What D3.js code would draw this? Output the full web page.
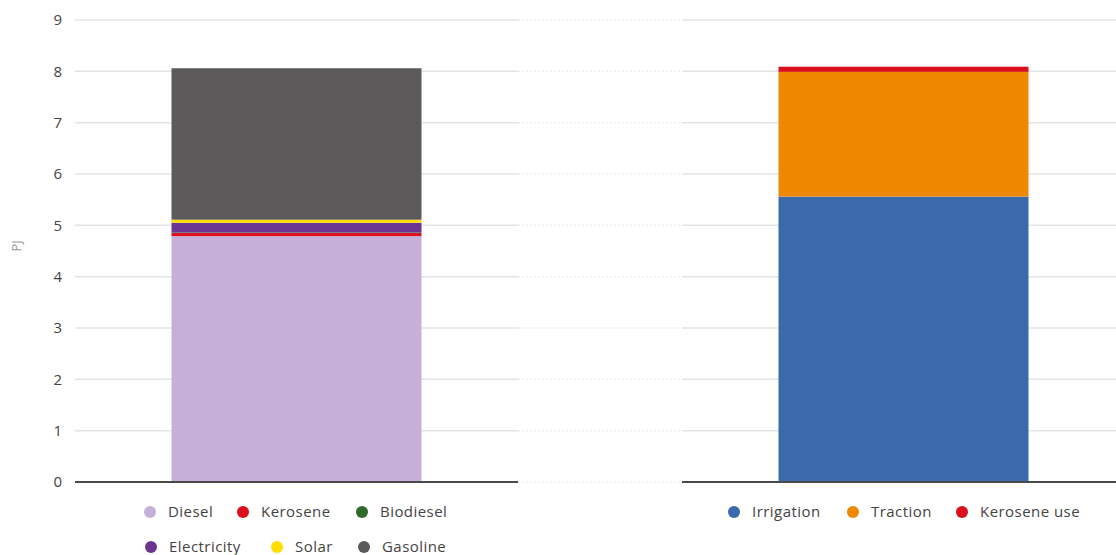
<!DOCTYPE html>
<html>
<head>
<meta charset="utf-8">
<script src="https://cdn.jsdelivr.net/npm/d3@7"></script>
<style>
  html, body { margin: 0; padding: 0; background: #fff; }
  svg { display: block; font-family: "Open Sans", sans-serif; }
</style>
</head>
<body>
<svg id="chart" width="1116" height="555"></svg>
<script>
// Agricultural energy use (PJ): by fuel and by end use
const panels = ["By fuel", "By end use"];

const fuelSeries = ["Diesel", "Kerosene", "Biodiesel", "Electricity", "Solar", "Gasoline"];
const fuelValues = [4.79, 0.06, 0.01, 0.19, 0.06, 2.95];
const fuelColors = ["#c5b1d7", "#de0f1c", "#2d6a2c", "#6c3591", "#ffdd00", "#5c5a5b"];

const useSeries = ["Irrigation", "Traction", "Kerosene use"];
const useValues = [5.56, 2.43, 0.10];
const useColors = ["#3a6aab", "#ef8700", "#d90f1c"];

const yTicks = [0, 1, 2, 3, 4, 5, 6, 7, 8, 9];

const svg = d3.select("#chart");

const y = d3.scaleLinear().domain([0, 9]).range([482, 20]);
const x = d3.scaleBand().domain(panels).range([75, 1125]).paddingInner(164 / 607).paddingOuter(0);
const barWidth = 250;

// gap between the two panels gets faint dotted gridlines
const leftEnd = x(panels[0]) + x.bandwidth();
const rightStart = x(panels[1]);

const grid = svg.append("g");
yTicks.filter(t => t > 0).forEach(t => {
  panels.forEach(p => {
    grid.append("line")
      .attr("x1", x(p)).attr("x2", Math.min(x(p) + x.bandwidth(), 1116))
      .attr("y1", y(t)).attr("y2", y(t))
      .attr("stroke", "#e4e4e4").attr("stroke-width", 1.5);
  });
  grid.append("line")
    .attr("x1", leftEnd).attr("x2", rightStart)
    .attr("y1", y(t)).attr("y2", y(t))
    .attr("stroke", "#eeeeee").attr("stroke-width", 1.5)
    .attr("stroke-dasharray", "2,2");
});

// y axis labels
const yAxis = d3.axisLeft(y).tickValues(yTicks).tickSize(0).tickPadding(0).tickFormat(d3.format("d"));
const ya = svg.append("g").attr("transform", "translate(62,0)").call(yAxis);
ya.select(".domain").remove();
ya.selectAll("text").attr("font-size", 15).attr("fill", "#444").attr("font-family", "Open Sans, sans-serif");

svg.append("text")
  .attr("transform", `translate(21,${y(4.6)}) rotate(-90)`)
  .attr("text-anchor", "middle")
  .attr("font-size", 13).attr("fill", "#999")
  .text("PJ");

// stacked bars
function drawStack(panel, names, values, colors) {
  const row = {};
  names.forEach((n, i) => row[n] = values[i]);
  const stacked = d3.stack().keys(names)([row]);
  const cx = x(panel) + x.bandwidth() / 2;
  const g = svg.append("g");
  stacked.forEach((layer, i) => {
    const seg = layer[0];
    g.append("rect")
      .attr("x", cx - barWidth / 2)
      .attr("width", barWidth)
      .attr("y", y(seg[1]))
      .attr("height", y(seg[0]) - y(seg[1]))
      .attr("fill", colors[i]);
  });
}
drawStack(panels[0], fuelSeries, fuelValues, fuelColors);
drawStack(panels[1], useSeries, useValues, useColors);

// baselines
panels.forEach(p => {
  svg.append("line")
    .attr("x1", x(p)).attr("x2", Math.min(x(p) + x.bandwidth(), 1116))
    .attr("y1", y(0)).attr("y2", y(0))
    .attr("stroke", "#4a4a4a").attr("stroke-width", 2.2);
});
svg.append("line")
  .attr("x1", leftEnd).attr("x2", rightStart)
  .attr("y1", y(0)).attr("y2", y(0))
  .attr("stroke", "#eeeeee").attr("stroke-width", 1.5)
  .attr("stroke-dasharray", "2,2");

// legends
function legend(items, colors, positions) {
  const g = svg.append("g").attr("font-size", 15).attr("letter-spacing", "0.45px").attr("fill", "#444");
  items.forEach((name, i) => {
    const [px, py] = positions[i];
    g.append("circle").attr("cx", px).attr("cy", py).attr("r", 6).attr("fill", colors[i]);
    g.append("text").attr("x", px + 18).attr("y", py).attr("dy", "0.35em").text(name);
  });
}
legend(fuelSeries, fuelColors, [[150, 512], [243, 512], [362, 512], [151, 547], [277, 547], [364, 547]]);
legend(useSeries, useColors, [[734, 512], [853, 512], [962, 512]]);
</script>
</body>
</html>
